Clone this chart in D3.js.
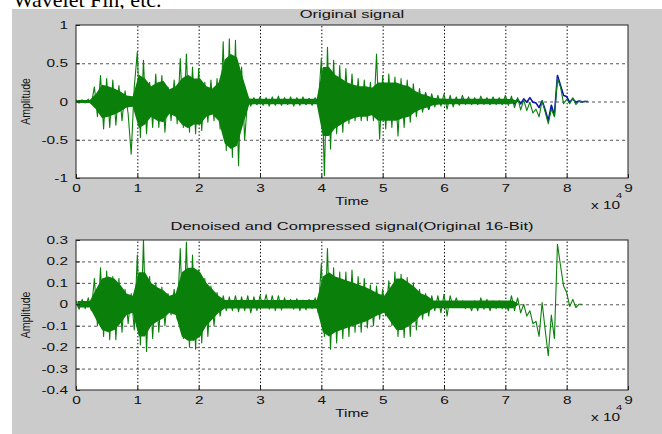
<!DOCTYPE html>
<html>
<head>
<meta charset="utf-8">
<script src="https://cdn.jsdelivr.net/npm/d3@7"></script>
<style>
body { margin: 0; background: #fff; }
text { font-family: "Liberation Sans", Arial, sans-serif; }
</style>
</head>
<body>
<script>
// Each signal is kept as two samples per 1000-sample frame:
// "A" at the start of the frame, "B" half way through it,
// plus the half-height of the solid "core" that the dense trace forms in that frame
var frame = 1000;

// Original signal, green trace (frames 0..83)
var origGreenA = [0.02, 0.02, 0.03, 0.19, 0.34, 0.30, 0.28, 0.21, 0.14, -0.69,
    0.65, 0.54, 0.25, 0.36, 0.34, 0.19, 0.28, 0.56, 0.62, 0.45,
    0.43, 0.25, 0.28, 0.30, 0.78, 0.82, 0.80, 0.45, 0.06, 0.05,
    0.06, 0.05, 0.06, 0.07, 0.05, 0.06, 0.05, 0.06, 0.04, 0.05,
    0.56, 0.71, 0.54, 0.47, 0.43, 0.36, 0.30, 0.28, 0.25, 0.62,
    0.34, 0.36, 0.32, 0.30, 0.28, 0.23, 0.17, 0.12, 0.10, 0.08,
    0.10, 0.08, 0.06, 0.08, 0.06, 0.05, 0.07, 0.05, 0.06, 0.05,
    0.08, 0.07, 0.05, 0.02, -0.01, -0.10, 0.01, -0.29, -0.20, 0.19,
    0.03, 0.05, 0.005, 0.002];
var origGreenB = [-0.02, -0.02, -0.03, -0.20, -0.36, -0.34, -0.31, -0.25, -0.16, 0.19,
    -0.47, -0.42, -0.34, -0.34, -0.40, -0.25, -0.29, -0.34, -0.40, -0.42,
    -0.38, -0.27, -0.25, -0.36, -0.64, -0.73, -0.84, -0.50, -0.06, -0.04,
    -0.05, -0.06, -0.05, -0.05, -0.04, -0.06, -0.05, -0.04, -0.05, -0.06,
    -0.97, -0.62, -0.42, -0.40, -0.29, -0.25, -0.25, -0.25, -0.25, -0.49,
    -0.36, -0.34, -0.45, -0.34, -0.27, -0.20, -0.14, -0.10, -0.07, -0.06,
    -0.10, -0.07, -0.05, -0.03, -0.04, -0.04, -0.03, -0.04, -0.03, -0.04,
    -0.05, -0.08, -0.11, -0.12, -0.15, -0.20, -0.14, -0.10, 0.30, -0.03,
    -0.03, -0.04, -0.005, 0];
var origGreenCore = [0.02, 0.02, 0.02, 0.10, 0.22, 0.20, 0.17, 0.13, 0.08, 0.07,
    0.35, 0.30, 0.20, 0.25, 0.27, 0.16, 0.20, 0.30, 0.35, 0.30,
    0.30, 0.20, 0.17, 0.25, 0.55, 0.62, 0.58, 0.30, 0.04, 0.035,
    0.035, 0.035, 0.035, 0.035, 0.035, 0.035, 0.035, 0.035, 0.035, 0.035,
    0.45, 0.45, 0.35, 0.30, 0.25, 0.22, 0.20, 0.20, 0.18, 0.25,
    0.25, 0.25, 0.25, 0.22, 0.20, 0.14, 0.10, 0.08, 0.05, 0.04,
    0.035, 0.035, 0.035, 0.035, 0.035, 0.035, 0.035, 0.035, 0.035, 0.035,
    0.035, 0.03, 0, 0, 0, 0, 0, 0, 0, 0,
    0, 0, 0, 0];

// Original signal, blue trace (mostly hidden under the green one)
var origBlueA = [0.012, 0.015, 0.01, 0.05, 0.1, 0.1, 0.1, 0.08, 0.05, 0.02,
    0.1, 0.1, 0.1, 0.1, 0.1, 0.1, 0.1, 0.1, 0.1, 0.1,
    0.1, 0.1, 0.1, 0.1, 0.1, 0.1, 0.1, 0.1, 0.03, 0.03,
    0.03, 0.03, 0.03, 0.03, 0.03, 0.03, 0.03, 0.03, 0.03, 0.03,
    0.1, 0.1, 0.1, 0.1, 0.1, 0.1, 0.1, 0.1, 0.1, 0.1,
    0.1, 0.1, 0.1, 0.1, 0.1, 0.1, 0.1, 0.1, 0.03, 0.03,
    0.03, 0.03, 0.03, 0.03, 0.03, 0.03, 0.03, 0.03, 0.03, 0.03,
    0.03, 0.03, 0.03, 0.035, 0.05, -0.02, 0.01, -0.25, -0.18, 0.21,
    0.065, 0.035, 0.005, 0];
var origBlueB = [-0.012, -0.01, -0.015, -0.05, -0.1, -0.1, -0.1, -0.08, -0.05, -0.02,
    -0.1, -0.1, -0.1, -0.1, -0.1, -0.1, -0.1, -0.1, -0.1, -0.1,
    -0.1, -0.1, -0.1, -0.1, -0.1, -0.1, -0.1, -0.1, -0.03, -0.03,
    -0.03, -0.03, -0.03, -0.03, -0.03, -0.03, -0.03, -0.03, -0.03, -0.03,
    -0.1, -0.1, -0.1, -0.1, -0.1, -0.1, -0.1, -0.1, -0.1, -0.1,
    -0.1, -0.1, -0.1, -0.1, -0.1, -0.1, -0.1, -0.1, -0.03, -0.03,
    -0.03, -0.03, -0.03, -0.03, -0.03, -0.03, -0.03, -0.03, -0.03, -0.03,
    -0.03, -0.03, -0.03, -0.01, -0.01, -0.08, -0.11, -0.05, 0.34, 0.08,
    -0.01, -0.01, -0.005, 0];

// Denoised and compressed signal (frames 0..82)
var denoisedA = [0.016, 0.023, 0.03, 0.12, 0.17, 0.155, 0.13, 0.12, 0.07, 0.05,
    0.23, 0.30, 0.13, 0.10, 0.08, 0.05, 0.07, 0.26, 0.29, 0.23,
    0.16, 0.12, 0.085, 0.055, 0.04, 0.035, 0.04, 0.035, 0.04, 0.035,
    0.04, 0.045, 0.04, 0.04, 0.03, 0.023, 0.026, 0.02, 0.023, 0.03,
    0.19, 0.26, 0.17, 0.15, 0.15, 0.16, 0.13, 0.12, 0.09, 0.085,
    0.07, 0.11, 0.15, 0.14, 0.125, 0.10, 0.07, 0.05, 0.04, 0.04,
    0.047, 0.04, 0.03, 0.016, 0.008, 0.016, 0.03, 0.023, 0.016, 0.016,
    0.008, 0.04, 0.03, 0.0, -0.03, -0.08, 0.008, -0.24, -0.16, 0.18,
    0.055, 0.023, 0.0];
var denoisedB = [-0.023, -0.02, -0.03, -0.10, -0.15, -0.165, -0.165, -0.13, -0.09, -0.12,
    -0.19, -0.22, -0.16, -0.13, -0.10, -0.05, -0.07, -0.16, -0.20, -0.21,
    -0.18, -0.15, -0.10, -0.055, -0.03, -0.03, -0.035, -0.03, -0.04, -0.03,
    -0.015, -0.023, -0.03, -0.026, -0.015, -0.023, -0.03, -0.026, -0.02, -0.04,
    -0.15, -0.21, -0.18, -0.16, -0.15, -0.13, -0.13, -0.11, -0.10, -0.07,
    -0.055, -0.10, -0.15, -0.155, -0.15, -0.12, -0.07, -0.055, -0.03, -0.04,
    -0.055, -0.015, -0.015, -0.02, -0.03, -0.03, -0.023, -0.03, -0.02, -0.02,
    -0.03, -0.03, -0.04, -0.055, -0.09, -0.15, -0.12, -0.05, 0.28, 0.085,
    -0.01, -0.015, 0.0];
var denoisedCore = [0.015, 0.015, 0.015, 0.07, 0.12, 0.13, 0.12, 0.09, 0.05, 0.04,
    0.15, 0.15, 0.10, 0.08, 0.065, 0.04, 0.05, 0.15, 0.17, 0.17,
    0.15, 0.10, 0.07, 0.04, 0.02, 0.02, 0.02, 0.02, 0.02, 0.02,
    0.02, 0.02, 0.02, 0.02, 0.02, 0.02, 0.02, 0.02, 0.02, 0.02,
    0.13, 0.15, 0.13, 0.12, 0.11, 0.10, 0.09, 0.08, 0.065, 0.05,
    0.04, 0.08, 0.12, 0.12, 0.10, 0.08, 0.05, 0.04, 0.018, 0.018,
    0.018, 0.018, 0.018, 0.018, 0.018, 0.018, 0.018, 0.018, 0.018, 0.018,
    0.018, 0.018, 0, 0, 0, 0, 0, 0, 0, 0,
    0, 0, 0];

// Ticks and labels
var xTicks = [0, 10000, 20000, 30000, 40000, 50000, 60000, 70000, 80000, 90000];
var xTickLabels = ['0', '1', '2', '3', '4', '5', '6', '7', '8', '9'];
var topYTicks = [-1, -0.5, 0, 0.5, 1];
var topYLabels = ['-1', '-0.5', '0', '0.5', '1'];
var botYTicks = [-0.4, -0.3, -0.2, -0.1, 0, 0.1, 0.2, 0.3];
var botYLabels = ['-0.4', '-0.3', '-0.2', '-0.1', '0', '0.1', '0.2', '0.3'];

var svgWidth = 662, svgHeight = 434;
var plotLeft = 76, plotRight = 628;
var stretch = 1.4; // the picture's text is wider than it is tall

var svg = d3.select('body').append('svg')
    .attr('width', svgWidth)
    .attr('height', svgHeight);

// Bit of page text cut off at the top
svg.append('text')
    .attr('x', 13).attr('y', 7)
    .style('font-family', '"Liberation Serif", "Times New Roman", serif')
    .style('font-size', '22px')
    .attr('fill', '#000')
    .text('Wavelet Fin, etc.');

// Figure background
svg.append('rect')
    .attr('x', 12).attr('y', 9)
    .attr('width', svgWidth - 12).attr('height', svgHeight - 9)
    .attr('fill', '#cbcbcb');

var x = d3.scaleLinear().domain([0, 90000]).range([plotLeft, plotRight]);

function framePoints(a, b) {
    var pts = [];
    a.forEach(function(v, i) {
        pts.push([i * frame, v]);
        pts.push([i * frame + frame / 2, b[i]]);
    });
    return pts;
}

function label(g, tx, ty, str, size, anchor, sx, rotate) {
    return g.append('text')
        .attr('transform', 'translate(' + tx + ',' + ty + ') scale(' + sx + ',1)' + (rotate ? ' rotate(-90)' : ''))
        .attr('text-anchor', anchor)
        .style('font-size', size + 'px')
        .attr('fill', '#111')
        .text(str);
}

var panels = [
    { id: 'p1', top: 25, bottom: 178, domain: [-1, 1], ticks: topYTicks, labels: topYLabels,
      title: 'Original signal', titleY: 17.5,
      traces: [[origBlueA, origBlueB, null, '#0a14b4'], [origGreenA, origGreenB, origGreenCore, '#0a800a']] },
    { id: 'p2', top: 240, bottom: 390, domain: [-0.4, 0.3], ticks: botYTicks, labels: botYLabels,
      title: 'Denoised and Compressed signal(Original 16-Bit)', titleY: 230,
      traces: [[denoisedA, denoisedB, denoisedCore, '#0a800a']] }
];

panels.forEach(function(p) {
    var h = p.bottom - p.top;
    var w = plotRight - plotLeft;
    var y = d3.scaleLinear().domain(p.domain).range([p.bottom, p.top]);
    var g = svg.append('g');

    g.append('rect')
        .attr('x', plotLeft).attr('y', p.top)
        .attr('width', w).attr('height', h)
        .attr('fill', '#fff');

    // vertical dotted grid
    var gx = g.append('g')
        .attr('transform', 'translate(0,' + p.bottom + ')')
        .call(d3.axisBottom(x).tickValues(xTicks.slice(1, -1)).tickSize(-h).tickFormat(''));
    gx.select('.domain').remove();
    gx.selectAll('line').attr('stroke', '#111').attr('stroke-dasharray', '1.5,2');

    // horizontal dashed grid
    var gy = g.append('g')
        .attr('transform', 'translate(' + plotLeft + ',0)')
        .call(d3.axisLeft(y).tickValues(p.ticks.slice(1, -1)).tickSize(-w).tickFormat(''));
    gy.select('.domain').remove();
    gy.selectAll('line').attr('stroke', '#555').attr('stroke-dasharray', '3,3');

    g.append('clipPath').attr('id', 'clip-' + p.id)
        .append('rect')
        .attr('x', plotLeft).attr('y', p.top)
        .attr('width', w).attr('height', h);

    var line = d3.line()
        .x(function(d) { return x(d[0]); })
        .y(function(d) { return y(d[1]); });

    // solid core of the dense trace
    var coreArea = d3.area()
        .x(function(d, i) { return x(i * frame + frame / 4); })
        .y0(function(d) { return y(-d); })
        .y1(function(d) { return y(d); });

    p.traces.forEach(function(tr) {
        var color = tr[3];
        if (tr[2]) {
            g.append('path')
                .datum(tr[2])
                .attr('clip-path', 'url(#clip-' + p.id + ')')
                .attr('fill', color)
                .attr('d', coreArea);
        }
        g.append('path')
            .datum(framePoints(tr[0], tr[1]))
            .attr('clip-path', 'url(#clip-' + p.id + ')')
            .attr('fill', 'none')
            .attr('stroke', color)
            .attr('stroke-width', tr[2] ? 1.1 : 1.6)
            .attr('stroke-linejoin', 'round')
            .attr('d', line);
    });

    // axes with inward ticks
    var xAxis = g.append('g')
        .attr('transform', 'translate(0,' + p.bottom + ')')
        .call(d3.axisBottom(x).tickValues(xTicks).tickSize(-4).tickSizeOuter(0)
            .tickFormat(function(d, i) { return xTickLabels[i]; }));
    xAxis.select('.domain').remove();
    xAxis.selectAll('line').attr('stroke', '#222');
    xAxis.selectAll('text')
        .attr('y', 14).attr('dy', 0)
        .attr('transform', 'scale(' + stretch + ',1)')
        .style('font-size', '11px')
        .attr('fill', '#111');

    var yAxis = g.append('g')
        .attr('transform', 'translate(' + plotLeft + ',0)')
        .call(d3.axisLeft(y).tickValues(p.ticks).tickSize(-4).tickSizeOuter(0)
            .tickFormat(function(d, i) { return p.labels[i]; }));
    yAxis.select('.domain').remove();
    yAxis.selectAll('line').attr('stroke', '#222');
    yAxis.selectAll('text')
        .attr('x', -8 / stretch)
        .attr('transform', 'scale(' + stretch + ',1)')
        .style('font-size', '11px')
        .attr('fill', '#111');

    g.append('rect')
        .attr('x', plotLeft).attr('y', p.top)
        .attr('width', w).attr('height', h)
        .attr('fill', 'none')
        .attr('stroke', '#222')
        .attr('stroke-width', 1);

    var cx = (plotLeft + plotRight) / 2;
    label(g, cx, p.titleY, p.title, 11, 'middle', 1.5);
    label(g, cx, p.bottom + 27, 'Time', 11, 'middle', stretch);
    label(g, 591, p.bottom + 31, 'x 10', 11, 'start', stretch);
    label(g, 616, p.bottom + 20, '4', 8, 'start', stretch);
    label(g, 30, (p.top + p.bottom) / 2, 'Amplitude', 10.5, 'middle', 1.3, true);
});
</script>
</body>
</html>
